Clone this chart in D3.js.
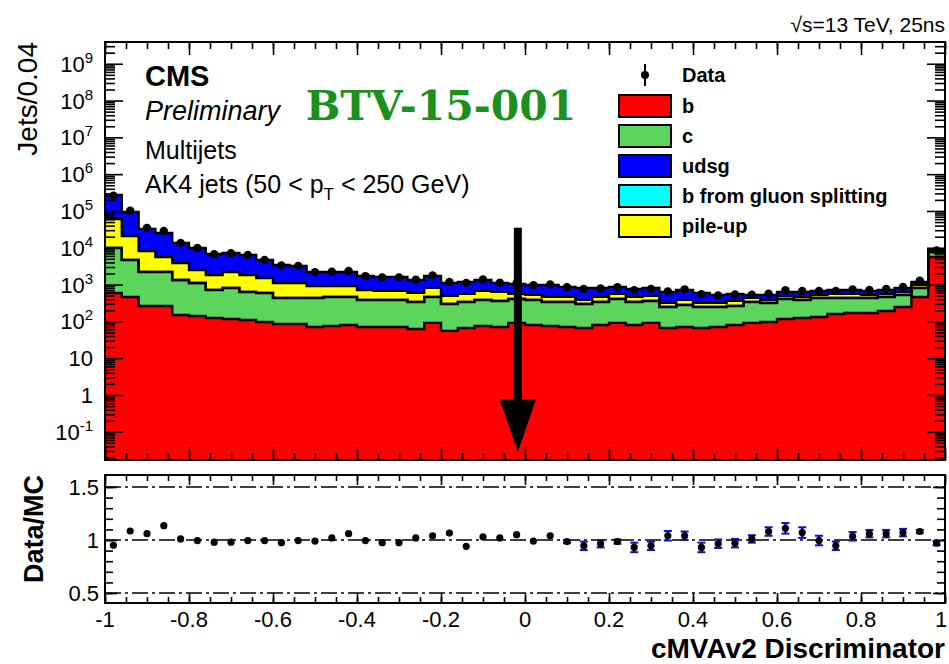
<!DOCTYPE html>
<html>
<head>
<meta charset="utf-8">
<script src="https://cdn.jsdelivr.net/npm/d3@7"></script>
<style>
  body { margin: 0; background: #fff; }
  text { font-family: "Liberation Sans", Arial, sans-serif; fill: #000; }
</style>
</head>
<body>
<svg id="chart"></svg>
<script>
// cMVAv2 discriminator, 50 bins of width 0.04 from -1 to 1
const binWidth = 0.04;
const nBins = 50;

// stacked MC components (jets per bin)
const bJets = [590,460,262,262,149,140,124,116,109,96, 85,85,70,75,80,70,70,70,62,91,
  55,66,75,70,91,80,75,70,66,80, 91,80,91,66,70,66,70,80,91,96,
  116,124,132,159,169,169,192,246,460,5620];
const cJets = [9300,4200,1940,1940,1180,960,589,693,520,495, 347,347,362,385,380,312,312,312,275,369,
  242,271,307,288,315,302,262,267,231,257, 315,257,267,180,209,180,176,182,246,220,
  290,258,300,273,263,263,268,276,349,2070];
const gsplitJets = [60,25,10,9,6,5,4,4,4,3, 3,3,2,2,2,2,2,2,2,2,
  2,2,2,2,2,2,2,2,2,2, 2,2,2,2,2,2,2,2,2,2,
  2,2,2,2,2,2,2,2,3,15];
const pileupJets = [50700,16200,5990,3420,2530,1390,1107,1391,1191,919, 668,668,484,456,456,331,288,288,254,349,
  193,218,288,271,149,140,123,123,85,123, 149,123,132,70,103,70,70,96,95,66,
  84,78,90,123,123,90,95,107,166,1020];
const udsgJets = [211000,73100,24200,19600,9640,7390,4970,5020,4550,3150, 2310,2100,1284,1284,1284,997,940,940,739,901,
  610,625,660,471,485,453,515,401,427,349, 306,299,319,313,331,275,206,197,90,140,
  139,169,148,158,158,148,158,180,205,60];

// observed data
const dataJets = [258000,102000,34300,28600,13600,9830,6650,7080,6340,4640, 3320,3180,2180,2240,2330,1700,1570,1570,1360,1780,
  1170,1110,1370,1120,1090,965,1010,848,765,781, 848,706,765,654,742,550,504,538,527,564,
  698,673,667,674,738,710,756,866,1274,8450];

// ratio panel
const ratio = [0.95,1.085,1.06,1.135,1.01,0.995,0.98,0.98,0.995,0.995, 0.975,0.995,0.99,1.02,1.06,0.995,0.975,0.975,1.02,1.04,
  1.065,0.94,1.03,1.02,1.05,0.99,1.04,0.985,0.945,0.965, 0.985,0.93,0.945,1.04,1.04,0.93,0.965,0.97,1.01,1.08,
  1.11,1.07,0.995,0.945,1.035,1.06,1.06,1.07,1.08,0.97];
const mcErr = [0.005,0.005,0.005,0.005,0.005,0.005,0.005,0.005,0.005,0.005, 0.005,0.005,0.005,0.005,0.005,0.005,0.005,0.005,0.005,0.005,
  0.008,0.008,0.01,0.01,0.01,0.012,0.012,0.015,0.04,0.035, 0.02,0.045,0.04,0.045,0.04,0.045,0.04,0.04,0.035,0.04,
  0.05,0.05,0.045,0.04,0.04,0.035,0.035,0.035,0.015,0.02];

// tick labels
const xTickVals = [-1,-0.8,-0.6,-0.4,-0.2,0,0.2,0.4,0.6,0.8,1];
const xTickLabels = ["-1","-0.8","-0.6","-0.4","-0.2","0","0.2","0.4","0.6","0.8","1"];
const yDecades = [-1,0,1,2,3,4,5,6,7,8,9];
const rTickVals = [0.5,1,1.5];
const rTickLabels = ["0.5","1","1.5"];

const layerKeys = ["b","c","gsplit","pileup","udsg"];
const layerColor = {b:"#ff0000", c:"#5cd55c", gsplit:"#00ffff", pileup:"#ffff00", udsg:"#0000ff"};
const legendItems = [
  {key:"b", label:"b"},
  {key:"c", label:"c"},
  {key:"udsg", label:"udsg"},
  {key:"gsplit", label:"b from gluon splitting"},
  {key:"pileup", label:"pile-up"}
];

const W = 949, H = 664;
const L = 105, R = 945;
const mainTop = 42, mainBot = 460;
const ratTop = 475, ratBot = 603;

const svg = d3.select("#chart").attr("width", W).attr("height", H);

const x = d3.scaleLinear().domain([-1, 1]).range([L, R]);
const yMin = 0.0171;
const y = d3.scaleLog().domain([yMin, 3.9e9]).range([mainBot, mainTop]);
const yr = d3.scaleLinear().domain([0.406, 1.613]).range([ratBot, ratTop]);

const edges = d3.range(nBins + 1).map(i => -1 + i * binWidth);
const centers = d3.range(nBins).map(i => -1 + (i + 0.5) * binWidth);

const rows = d3.range(nBins).map(i => ({
  b: bJets[i], c: cJets[i], gsplit: gsplitJets[i], pileup: pileupJets[i], udsg: udsgJets[i]
}));
const stacked = d3.stack().keys(layerKeys)(rows);

svg.append("clipPath").attr("id", "mainClip")
  .append("rect").attr("x", L).attr("y", mainTop).attr("width", R - L).attr("height", mainBot - mainTop);

const area = d3.area()
  .curve(d3.curveStepAfter)
  .x(p => x(p.x))
  .y0(p => y(Math.max(p.y0, yMin)))
  .y1(p => y(Math.max(p.y1, yMin)));
const outline = d3.line()
  .curve(d3.curveStepAfter)
  .x(p => x(p.x))
  .y(p => y(Math.max(p.y1, yMin)));

function stepPoints(s) {
  const pts = s.map((d, i) => ({x: edges[i], y0: d[0], y1: d[1]}));
  const last = s[s.length - 1];
  pts.push({x: edges[nBins], y0: last[0], y1: last[1]});
  return pts;
}

const hist = svg.append("g").attr("clip-path", "url(#mainClip)");
hist.selectAll("path.layer")
  .data(stacked)
  .enter()
  .append("path")
  .attr("class", "layer")
  .attr("fill", s => layerColor[s.key])
  .attr("d", s => area(stepPoints(s)));
hist.selectAll("path.edge")
  .data(stacked)
  .enter()
  .append("path")
  .attr("class", "edge")
  .attr("fill", "none")
  .attr("stroke", "#000")
  .attr("stroke-width", 2.4)
  .attr("d", s => outline(stepPoints(s)));

// data points
hist.selectAll("circle.data")
  .data(dataJets)
  .enter()
  .append("circle")
  .attr("class", "data")
  .attr("cx", (d, i) => x(centers[i]))
  .attr("cy", d => y(d))
  .attr("r", 4.2)
  .attr("fill", "#000");

// ticks
function ticks(axisFn, scale, values, size, transform) {
  svg.append("g")
    .attr("transform", transform)
    .call(axisFn(scale).tickValues(values).tickSize(size).tickFormat(""))
    .call(g => g.select(".domain").remove())
    .selectAll("line").attr("stroke", "#000").attr("stroke-width", 1.6);
}
const xMajor = xTickVals;
const xMinor = d3.range(41).map(i => -1 + i * 0.05);
const yMajor = yDecades.map(k => Math.pow(10, k));
const yMinor = [];
yDecades.concat([-2]).forEach(k => { for (let m = 2; m <= 9; m++) yMinor.push(m * Math.pow(10, k)); });
const yMinorIn = yMinor.filter(v => v >= yMin && v <= 3.9e9);

ticks(d3.axisLeft, y, yMajor, -18, `translate(${L},0)`);
ticks(d3.axisLeft, y, yMinorIn, -10, `translate(${L},0)`);
ticks(d3.axisRight, y, yMajor, -18, `translate(${R},0)`);
ticks(d3.axisRight, y, yMinorIn, -10, `translate(${R},0)`);
ticks(d3.axisTop, x, xMajor, -13, `translate(0,${mainTop})`);
ticks(d3.axisTop, x, xMinor, -7, `translate(0,${mainTop})`);
ticks(d3.axisBottom, x, xMajor, -13, `translate(0,${mainBot})`);
ticks(d3.axisBottom, x, xMinor, -7, `translate(0,${mainBot})`);

const rMinor = d3.range(5, 16).map(i => i / 10);
ticks(d3.axisLeft, yr, rTickVals, -12, `translate(${L},0)`);
ticks(d3.axisLeft, yr, rMinor, -8, `translate(${L},0)`);
ticks(d3.axisRight, yr, rTickVals, -12, `translate(${R},0)`);
ticks(d3.axisRight, yr, rMinor, -8, `translate(${R},0)`);
ticks(d3.axisTop, x, xMajor, -10, `translate(0,${ratTop})`);
ticks(d3.axisTop, x, xMinor, -6, `translate(0,${ratTop})`);
ticks(d3.axisBottom, x, xMajor, -10, `translate(0,${ratBot})`);
ticks(d3.axisBottom, x, xMinor, -6, `translate(0,${ratBot})`);

// frames
svg.append("rect").attr("x", L).attr("y", mainTop).attr("width", R - L).attr("height", mainBot - mainTop)
  .attr("fill", "none").attr("stroke", "#000").attr("stroke-width", 2);
svg.append("rect").attr("x", L).attr("y", ratTop).attr("width", R - L).attr("height", ratBot - ratTop)
  .attr("fill", "none").attr("stroke", "#000").attr("stroke-width", 2);

// y labels main (log)
const yLab = svg.append("g").selectAll("text")
  .data(yDecades)
  .enter()
  .append("text")
  .attr("x", 93)
  .attr("y", k => y(Math.pow(10, k)) + 8)
  .attr("text-anchor", "end")
  .style("font-size", "22px");
yLab.each(function(k) {
  const t = d3.select(this);
  if (k === 0) { t.text("1"); return; }
  t.append("tspan").text("10");
  if (k !== 1) {
    t.append("tspan").attr("dy", -9).style("font-size", "15px").text(String(k));
  }
});

// ratio y labels
svg.append("g").selectAll("text")
  .data(rTickVals)
  .enter()
  .append("text")
  .attr("x", 99)
  .attr("y", d => yr(d) + 8)
  .attr("text-anchor", "end")
  .style("font-size", "22px")
  .text((d, i) => rTickLabels[i]);

// x labels (last one kept inside the window)
svg.append("g").selectAll("text")
  .data(xTickVals)
  .enter()
  .append("text")
  .attr("x", d => Math.min(x(d), W - 8))
  .attr("y", 627)
  .attr("text-anchor", "middle")
  .style("font-size", "22px")
  .text((d, i) => xTickLabels[i]);

// ratio reference lines
svg.append("g").selectAll("line")
  .data(rTickVals)
  .enter()
  .append("line")
  .attr("x1", L).attr("x2", R)
  .attr("y1", d => yr(d)).attr("y2", d => yr(d))
  .attr("stroke", "#000")
  .attr("stroke-width", 1.5)
  .attr("stroke-dasharray", "16,4,3,4");

// ratio error bars and points
const rg = svg.append("g");
ratio.forEach((r, i) => {
  const cx = x(centers[i]);
  const e = mcErr[i];
  if (e >= 0.015) {
    rg.append("line").attr("x1", cx).attr("x2", cx).attr("y1", yr(r - e)).attr("y2", yr(r + e))
      .attr("stroke", "#1010c0").attr("stroke-width", 2.5);
    [r - e, r + e].forEach(v => rg.append("line").attr("x1", cx - 4).attr("x2", cx + 4)
      .attr("y1", yr(v)).attr("y2", yr(v)).attr("stroke", "#1010c0").attr("stroke-width", 2));
  }
});
rg.selectAll("circle")
  .data(ratio)
  .enter()
  .append("circle")
  .attr("cx", (d, i) => x(centers[i]))
  .attr("cy", d => yr(d))
  .attr("r", 3.6)
  .attr("fill", "#000");

// arrow annotation
const arrowX = -0.017, arrowTop = 3.5e4, arrowHead = 0.75, arrowTip = 0.028;
svg.append("line")
  .attr("x1", x(arrowX)).attr("x2", x(arrowX))
  .attr("y1", y(arrowTop)).attr("y2", y(arrowHead) + 4)
  .attr("stroke", "#000").attr("stroke-width", 8);
svg.append("path")
  .attr("d", `M${x(arrowX) - 18},${y(arrowHead)} L${x(arrowX) + 18},${y(arrowHead)} L${x(arrowX)},${y(arrowTip)} Z`)
  .attr("fill", "#000");

// axis titles
svg.append("text")
  .attr("transform", "translate(37,42) rotate(-90)")
  .attr("text-anchor", "end")
  .style("font-size", "28px")
  .text("Jets/0.04");
svg.append("text")
  .attr("transform", `translate(43,${ratTop}) rotate(-90)`)
  .attr("text-anchor", "end")
  .style("font-size", "27px")
  .style("font-weight", "bold")
  .text("Data/MC");
svg.append("text")
  .attr("x", R).attr("y", 658)
  .attr("text-anchor", "end")
  .style("font-size", "28px")
  .style("font-weight", "bold")
  .text("cMVAv2 Discriminator");

// header texts
svg.append("text").attr("x", R).attr("y", 32).attr("text-anchor", "end")
  .style("font-size", "21px").text("\u221As=13 TeV, 25ns");
svg.append("text").attr("x", 145).attr("y", 86).style("font-size", "29px").style("font-weight", "bold").text("CMS");
svg.append("text").attr("x", 145).attr("y", 120).style("font-size", "27px").style("font-style", "italic").text("Preliminary");
svg.append("text").attr("x", 145).attr("y", 159).style("font-size", "25px").text("Multijets");
const ak4 = svg.append("text").attr("x", 145).attr("y", 193).style("font-size", "25px");
ak4.append("tspan").text("AK4 jets (50 < p");
ak4.append("tspan").attr("dy", 7).style("font-size", "17px").text("T");
ak4.append("tspan").attr("dy", -7).text(" < 250 GeV)");

svg.append("text")
  .attr("x", 441).attr("y", 120)
  .attr("text-anchor", "middle")
  .style("font-family", "'DejaVu Serif', serif")
  .style("font-weight", "bold")
  .style("font-size", "41px")
  .style("fill", "#1c901c")
  .text("BTV-15-001");

// legend
const leg = svg.append("g");
leg.append("line").attr("x1", 645).attr("x2", 645).attr("y1", 64).attr("y2", 86).attr("stroke", "#000").attr("stroke-width", 2);
leg.append("circle").attr("cx", 645).attr("cy", 75).attr("r", 4).attr("fill", "#000");
leg.append("text").attr("x", 682).attr("y", 82).style("font-size", "20px").style("font-weight", "bold").text("Data");
legendItems.forEach((it, i) => {
  const cy = 106 + i * 30;
  leg.append("rect").attr("x", 619).attr("y", cy - 11).attr("width", 52).attr("height", 22)
    .attr("fill", layerColor[it.key]).attr("stroke", "#000").attr("stroke-width", 2);
  leg.append("text").attr("x", 682).attr("y", cy + 7).style("font-size", "20px").style("font-weight", "bold").text(it.label);
});
</script>
</body>
</html>
